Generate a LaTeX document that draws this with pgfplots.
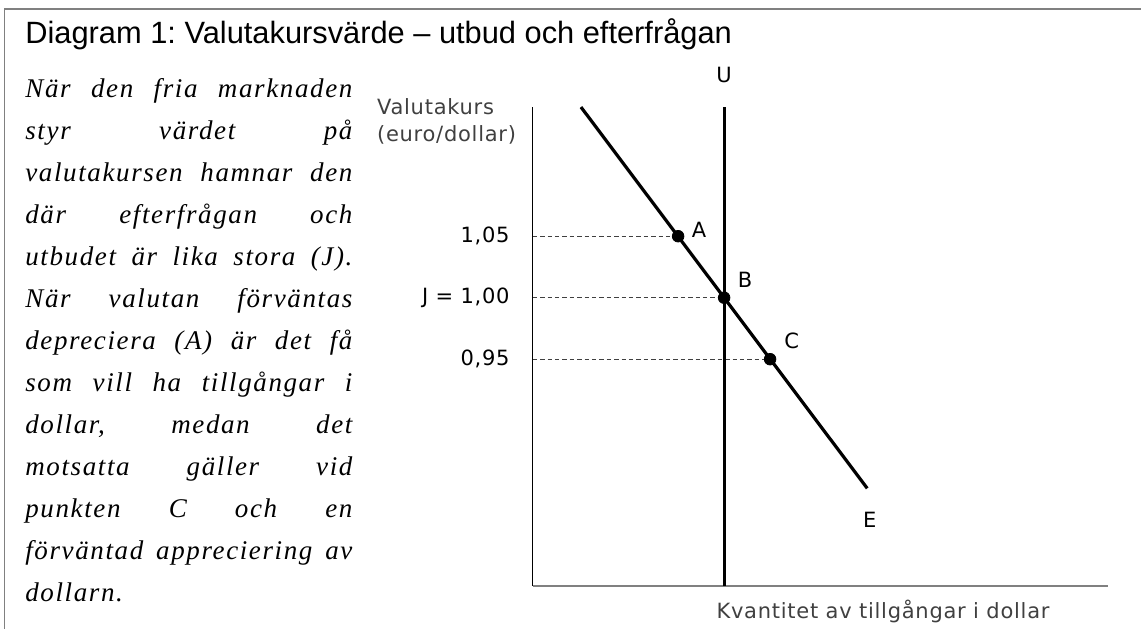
\documentclass[border=0pt]{standalone}
\usepackage{fontspec}
\setmainfont{Liberation Serif}
\newfontfamily\titlefont{Liberation Sans}
\newfontfamily\vfont[LetterSpace=3.5]{DejaVu Sans}
\newfontfamily\parafont[LetterSpace=6]{Liberation Serif}
\usepackage{pgfplots}
\pgfplotsset{compat=1.18}
\definecolor{framegray}{RGB}{128,128,128}
\definecolor{labgray}{RGB}{64,64,64}
\newcommand{\lf}{\vfont\fontsize{10.5pt}{12pt}\selectfont}
\frenchspacing
\begin{document}
\frenchspacing
\begin{tikzpicture}
\path[use as bounding box] (0,0) rectangle (570.5pt,314.5pt);
\draw[framegray, line width=1pt] (2.35pt,309.85pt) -- (570.5pt,309.85pt);
\draw[framegray, line width=0.75pt] (2.35pt,310.35pt) -- (2.35pt,0pt);
\node[anchor=base west, inner sep=0pt, font=\titlefont\fontsize{15.4pt}{17pt}\selectfont] at (12.5pt,292.85pt) {Diagram 1: Valutakursvärde – utbud och efterfrågan};
\node[anchor=base west, inner sep=0pt] at (12.5pt,265.65pt) {\begin{minipage}[t]{163.5pt}\parafont\itshape\fontsize{13.5pt}{21pt}\selectfont\frenchspacing
\makebox[\linewidth][s]{När den fria marknaden}\\
\makebox[\linewidth][s]{styr värdet på}\\
\makebox[\linewidth][s]{valutakursen hamnar den}\\
\makebox[\linewidth][s]{där efterfrågan och}\\
\makebox[\linewidth][s]{utbudet är lika stora (J).}\\
\makebox[\linewidth][s]{När valutan förväntas}\\
\makebox[\linewidth][s]{depreciera (A) är det få}\\
\makebox[\linewidth][s]{som vill ha tillgångar i}\\
\makebox[\linewidth][s]{dollar, medan det}\\
\makebox[\linewidth][s]{motsatta gäller vid}\\
\makebox[\linewidth][s]{punkten C och en}\\
\makebox[\linewidth][s]{förväntad appreciering av}\\
dollarn.\end{minipage}};
\node[anchor=base west, inner sep=0pt, font=\lf, text=labgray] at (188.35pt,257.35pt) {Valutakurs};
\node[anchor=base west, inner sep=0pt, font=\lf, text=labgray] at (188.35pt,244pt) {(euro/dollar)};
\node[anchor=base, inner sep=0pt, font=\lf, text=labgray] at (441.5pt,5.25pt) {Kvantitet av tillgångar i dollar};
\begin{axis}[at={(266.35pt,21.5pt)}, anchor=south west, scale only axis,
  width=287.4pt, height=239.65pt,
  xmin=0, xmax=100, ymin=0.7656, ymax=1.1553,
  axis x line*=bottom, axis y line*=left,
  x axis line style={framegray, line width=0.9pt, -},
  y axis line style={black, line width=0.6pt, -},
  xtick=\empty,
  ytick={0.95,1.00,1.05},
  yticklabels={{0,95},{J = 1,00},{1,05}},
  major tick length=0pt,
  yticklabel style={font=\lf, anchor=east, inner sep=0pt, xshift=-11.35pt},
  clip=false]
\addplot[labgray, line width=0.5pt, dash pattern=on 2.2pt off 1.5pt] coordinates {(0,1.05) (25.3,1.05)};
\addplot[labgray, line width=0.5pt, dash pattern=on 2.2pt off 1.5pt] coordinates {(0,1.00) (33.3,1.00)};
\addplot[labgray, line width=0.5pt, dash pattern=on 2.2pt off 1.5pt] coordinates {(0,0.95) (41.3,0.95)};
\addplot[black, line width=1.5pt] coordinates {(33.3,0.7656) (33.3,1.1553)};
\addplot[black, line width=1.6pt] coordinates {(8.4,1.155) (58.2,0.845)};
\addplot[only marks, mark=*, mark size=2.9pt, black] coordinates {(25.3,1.05) (33.3,1.00) (41.3,0.95)};
\node[font=\lf, xshift=10.5pt, yshift=3.3pt] at (axis cs:25.3,1.05) {A};
\node[font=\lf, xshift=10.5pt, yshift=8.85pt] at (axis cs:33.3,1.00) {B};
\node[font=\lf, xshift=10.85pt, yshift=9.3pt] at (axis cs:41.3,0.95) {C};
\node[font=\lf, xshift=1.25pt, yshift=-15.5pt] at (axis cs:58.2,0.845) {E};
\node[font=\lf, yshift=15.85pt] at (axis cs:33.3,1.1553) {U};
\end{axis}
\end{tikzpicture}
\end{document}
